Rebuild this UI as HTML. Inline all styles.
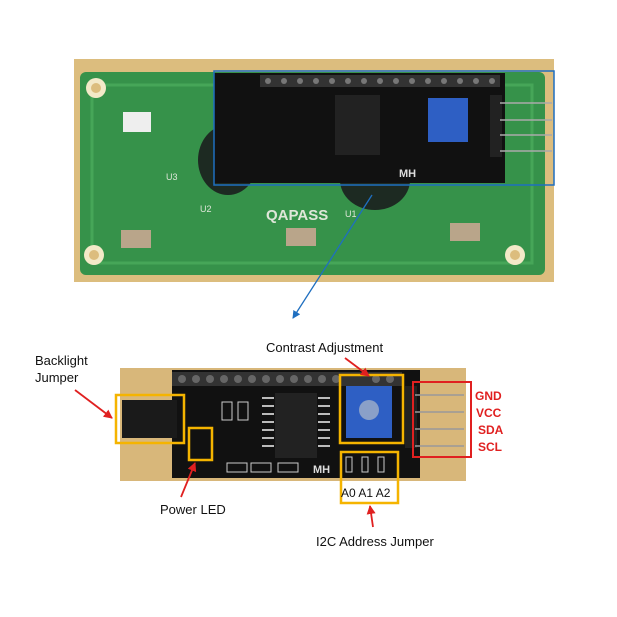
<!DOCTYPE html>
<html><head><style>
body{margin:0;background:#fff;width:617px;height:617px;overflow:hidden}
svg{display:block}
text{font-family:"Liberation Sans",sans-serif}
</style></head><body>
<svg width="617" height="617" viewBox="0 0 617 617" xmlns="http://www.w3.org/2000/svg">
<defs>
<marker id="ab" markerWidth="8" markerHeight="8" refX="7" refY="4" orient="auto" markerUnits="userSpaceOnUse"><path d="M0,0 L8,4 L0,8 Z" fill="#1f6fc0"/></marker>
<marker id="ar" markerWidth="9" markerHeight="9" refX="8" refY="4.5" orient="auto" markerUnits="userSpaceOnUse"><path d="M0,0 L9,4.5 L0,9 Z" fill="#e02020"/></marker>
</defs>
<!-- top photo -->
<rect x="74" y="59" width="480" height="223" fill="#dcbd7e"/>
<rect x="80" y="72" width="465" height="203" rx="6" fill="#36924a"/>
<rect x="92" y="85" width="440" height="178" fill="none" stroke="#46a658" stroke-width="3"/>
<circle cx="96" cy="88" r="10" fill="#f3e9c8"/><circle cx="96" cy="88" r="5" fill="#dcbd7e"/>
<circle cx="94" cy="255" r="10" fill="#f3e9c8"/><circle cx="94" cy="255" r="5" fill="#dcbd7e"/>
<circle cx="515" cy="255" r="10" fill="#f3e9c8"/><circle cx="515" cy="255" r="5" fill="#dcbd7e"/>
<ellipse cx="228" cy="160" rx="30" ry="35" fill="#1d2a22"/>
<ellipse cx="375" cy="180" rx="35" ry="30" fill="#1d2a22"/>
<rect x="123" y="112" width="28" height="20" fill="#eee"/>
<rect x="121" y="230" width="30" height="18" fill="#b9a58a"/>
<rect x="286" y="228" width="30" height="18" fill="#b9a58a"/>
<rect x="450" y="223" width="30" height="18" fill="#b9a58a"/>
<text x="266" y="220" font-size="15" font-weight="bold" fill="#dfe7d9">QAPASS</text>
<text x="200" y="212" font-size="9" fill="#dfe7d9">U2</text>
<text x="345" y="217" font-size="9" fill="#dfe7d9">U1</text>
<text x="166" y="180" font-size="9" fill="#dfe7d9">U3</text>
<rect x="214" y="73" width="291" height="110" fill="#111"/>
<rect x="260" y="75" width="240" height="12" fill="#333"/>
<g fill="#777"><circle cx="268" cy="81" r="3"/><circle cx="284" cy="81" r="3"/><circle cx="300" cy="81" r="3"/><circle cx="316" cy="81" r="3"/><circle cx="332" cy="81" r="3"/><circle cx="348" cy="81" r="3"/><circle cx="364" cy="81" r="3"/><circle cx="380" cy="81" r="3"/><circle cx="396" cy="81" r="3"/><circle cx="412" cy="81" r="3"/><circle cx="428" cy="81" r="3"/><circle cx="444" cy="81" r="3"/><circle cx="460" cy="81" r="3"/><circle cx="476" cy="81" r="3"/><circle cx="492" cy="81" r="3"/></g>
<rect x="335" y="95" width="45" height="60" fill="#222"/>
<rect x="428" y="98" width="40" height="44" fill="#2e5fc4"/>
<rect x="490" y="95" width="12" height="62" fill="#222"/>
<g stroke="#aaa" stroke-width="1.5"><line x1="500" y1="103" x2="552" y2="103"/><line x1="500" y1="120" x2="552" y2="120"/><line x1="500" y1="135" x2="552" y2="135"/><line x1="500" y1="151" x2="552" y2="151"/></g>
<text x="399" y="177" font-size="11" font-weight="bold" fill="#ddd" font-family="Liberation Serif">MH</text>
<rect x="214" y="71" width="340" height="114" fill="none" stroke="#1f6fc0" stroke-width="1.5"/>
<line x1="372" y1="195" x2="293" y2="318" stroke="#1f6fc0" stroke-width="1.3" marker-end="url(#ab)"/>
<!-- bottom photo -->
<rect x="120" y="368" width="346" height="113" fill="#d8b77a"/>
<rect x="172" y="370" width="248" height="108" fill="#111"/>
<rect x="172" y="372" width="230" height="14" fill="#333"/>
<g fill="#666"><circle cx="182" cy="379" r="4"/><circle cx="196" cy="379" r="4"/><circle cx="210" cy="379" r="4"/><circle cx="224" cy="379" r="4"/><circle cx="238" cy="379" r="4"/><circle cx="252" cy="379" r="4"/><circle cx="266" cy="379" r="4"/><circle cx="280" cy="379" r="4"/><circle cx="294" cy="379" r="4"/><circle cx="308" cy="379" r="4"/><circle cx="322" cy="379" r="4"/><circle cx="336" cy="379" r="4"/><circle cx="376" cy="379" r="4"/><circle cx="390" cy="379" r="4"/></g>
<rect x="275" y="393" width="42" height="65" fill="#222"/>
<g stroke="#bbb" stroke-width="2"><line x1="262" y1="398" x2="274" y2="398"/><line x1="262" y1="406" x2="274" y2="406"/><line x1="262" y1="414" x2="274" y2="414"/><line x1="262" y1="422" x2="274" y2="422"/><line x1="262" y1="430" x2="274" y2="430"/><line x1="262" y1="438" x2="274" y2="438"/><line x1="262" y1="446" x2="274" y2="446"/><line x1="318" y1="398" x2="330" y2="398"/><line x1="318" y1="406" x2="330" y2="406"/><line x1="318" y1="414" x2="330" y2="414"/><line x1="318" y1="422" x2="330" y2="422"/><line x1="318" y1="430" x2="330" y2="430"/><line x1="318" y1="438" x2="330" y2="438"/><line x1="318" y1="446" x2="330" y2="446"/></g>
<g fill="none" stroke="#ccc" stroke-width="1"><rect x="346" y="457" width="6" height="15"/><rect x="362" y="457" width="6" height="15"/><rect x="378" y="457" width="6" height="15"/><rect x="227" y="463" width="20" height="9"/><rect x="251" y="463" width="20" height="9"/><rect x="278" y="463" width="20" height="9"/><rect x="222" y="402" width="10" height="18"/><rect x="238" y="402" width="10" height="18"/></g>
<rect x="346" y="386" width="46" height="52" fill="#2e5fc4"/>
<circle cx="369" cy="410" r="10" fill="#8aa0c8"/>
<rect x="122" y="400" width="55" height="38" fill="#1a1a1a"/>
<rect x="405" y="386" width="12" height="62" fill="#222"/>
<g stroke="#999" stroke-width="1.5"><line x1="415" y1="395" x2="464" y2="395"/><line x1="415" y1="412" x2="464" y2="412"/><line x1="415" y1="429" x2="464" y2="429"/><line x1="415" y1="446" x2="464" y2="446"/></g>
<text x="313" y="473" font-size="11" font-weight="bold" fill="#ddd" font-family="Liberation Serif">MH</text>
<g fill="none" stroke="#f5b400" stroke-width="2.5">
<rect x="116" y="395" width="68" height="48"/>
<rect x="189" y="428" width="23" height="32"/>
<rect x="340" y="375" width="63" height="68"/>
<rect x="341" y="452" width="57" height="51"/>
</g>
<rect x="413" y="382" width="58" height="75" fill="none" stroke="#e02020" stroke-width="2"/>
<g font-size="12" font-weight="bold" fill="#e02020">
<text x="475" y="400">GND</text><text x="476" y="417">VCC</text><text x="478" y="434">SDA</text><text x="478" y="451">SCL</text>
</g>
<g font-size="13" fill="#111">
<text x="35" y="365">Backlight</text><text x="35" y="382">Jumper</text>
<text x="266" y="352">Contrast Adjustment</text>
<text x="160" y="514">Power LED</text>
<text x="316" y="546">I2C  Address Jumper</text>
<text x="341" y="497" font-size="12">A0 A1 A2</text>
</g>
<g stroke="#e02020" stroke-width="1.8">
<line x1="75" y1="390" x2="112" y2="418" marker-end="url(#ar)"/>
<line x1="345" y1="358" x2="369" y2="376" marker-end="url(#ar)"/>
<line x1="181" y1="497" x2="195" y2="463" marker-end="url(#ar)"/>
<line x1="373" y1="527" x2="370" y2="506" marker-end="url(#ar)"/>
</g>
</svg>
</body></html>
